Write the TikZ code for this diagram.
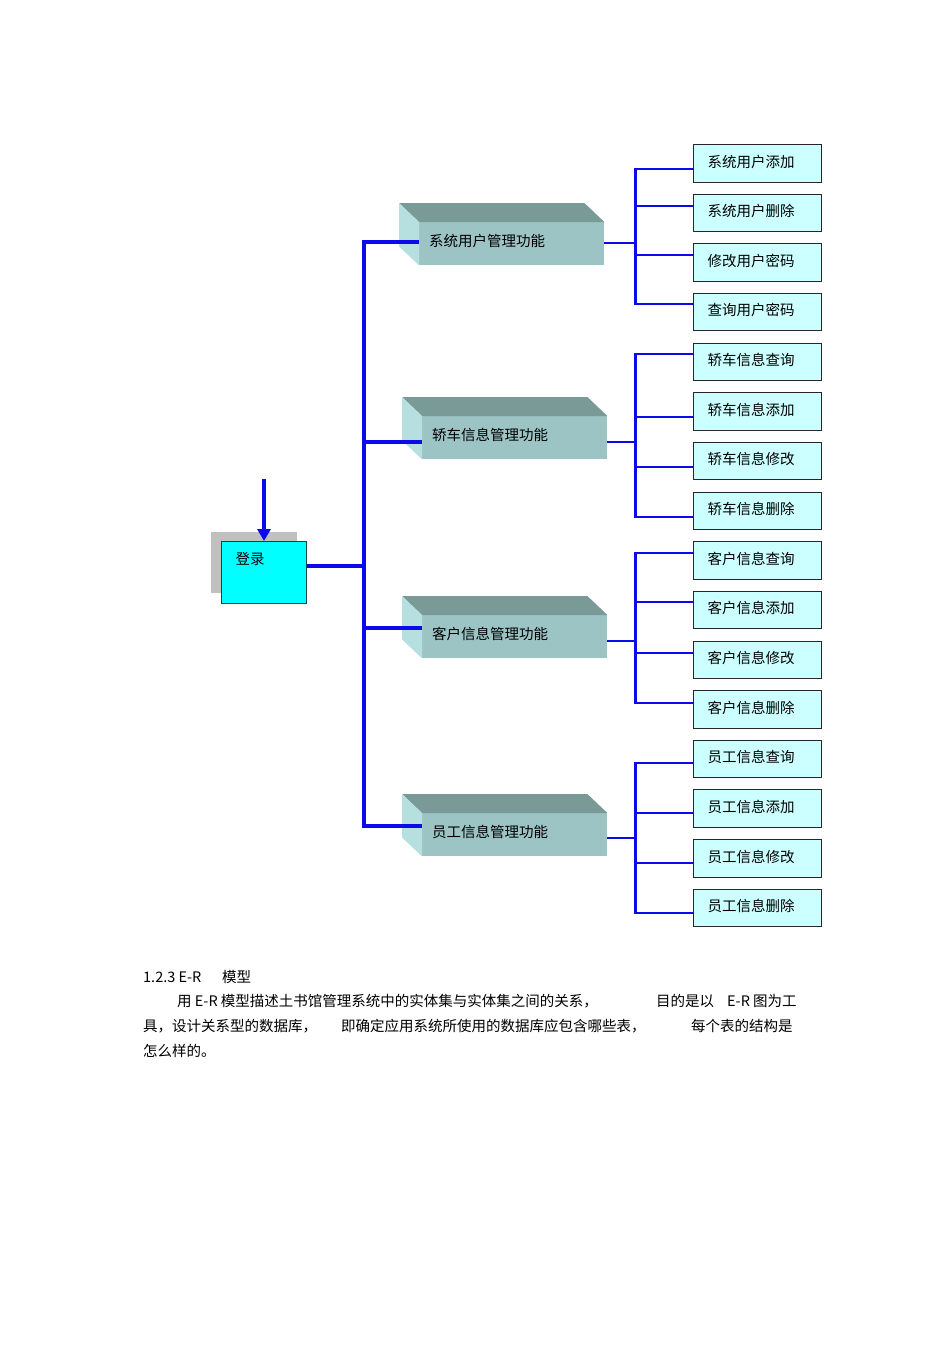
\documentclass[tikz,border=0pt]{standalone}
\usepackage{fontspec}
\setmainfont{Noto Sans CJK SC}
\usepackage{tikz}
\usetikzlibrary{positioning}
\usetikzlibrary{calc}
\usetikzlibrary{arrows.meta}
\definecolor{linkblue}{RGB}{10,10,235}
\definecolor{leafcyan}{RGB}{204,255,255}
\definecolor{logincyan}{RGB}{0,255,255}
\definecolor{boxtop}{RGB}{122,154,152}
\definecolor{boxfront}{RGB}{156,196,196}
\definecolor{boxside}{RGB}{182,224,224}
\definecolor{shadowgray}{RGB}{192,192,192}
\definecolor{loginedge}{RGB}{20,70,70}
\tikzset{
login_box/.style={rectangle, draw=loginedge, line width=0.8pt, fill=logincyan, minimum width=85pt, minimum height=62pt, anchor=north west},
module_front/.style={rectangle, fill=boxfront, minimum width=185pt, minimum height=43pt, text width=165pt, inner xsep=10pt, text height=12.5pt, text depth=7.5pt, align=left, anchor=north west, font=\fontsize{14.5}{17}\selectfont},
leaf_item/.style={rectangle, draw=black!85, line width=1pt, fill=leafcyan, minimum height=37.5pt, text width=100pt, inner xsep=14pt, text height=12.5pt, text depth=5pt, align=left, anchor=north west, font=\fontsize{14.5}{17}\selectfont},
main_link/.style={draw=linkblue, line width=4.5pt},
sub_trunk/.style={draw=linkblue, line width=3pt, line cap=rect},
branch_link/.style={draw=linkblue, line width=2.5pt},
out_link/.style={draw=linkblue, line width=2pt},
para/.style={anchor=base west, inner sep=0pt, font=\fontsize{14.5}{17}\selectfont}
}

\begin{document}
\begin{tikzpicture}[x=1pt, y=-1pt]
    \useasboundingbox (0,0) rectangle (950,1345);

    % login box with its shadow
    \fill[shadowgray] (211,532) rectangle (297,593);
    \node[login_box, label={[anchor=west, xshift=11pt, yshift=-18pt, font=\fontsize{14.5}{17}\selectfont]north west:登录}] (login) at (221,541) {};
    \coordinate (entry_top) at (264,479);
    \draw[main_link, line width=4pt, -{Triangle[width=13pt,length=12pt]}] (entry_top) -- (login.north -| entry_top);
    \coordinate (hub) at (364,566);
    \draw[main_link] (login.east |- hub) -- (hub);

    % four modules
    \foreach \i/\fx/\fy/\ey/\oy/\txt in {1/419/222/242/243/系统用户管理功能, 2/422/416/442/442/轿车信息管理功能, 3/422/615/628/641/客户信息管理功能, 4/422/813/826/838/员工信息管理功能}{
        \node[module_front] (m\i) at (\fx,\fy) {\txt};
        \fill[boxtop] (m\i.north west) -- (m\i.north east) -- ++(-20,-19) -- ($(m\i.north west)+(-20,-19)$) -- cycle;
        \fill[boxside] (m\i.north west) -- ++(-20,-19) -- ($(m\i.south west)+(-20,-19)$) -- (m\i.south west) -- cycle;
        \coordinate (in\i) at (364,\ey);
        \coordinate (out\i) at (635,\oy);
        \draw[out_link] (m\i.east |- out\i) -- (out\i);
    }
    \draw[main_link] (m1.west |- in1) -- (in1) -- (in4) -- (m4.west |- in4);
    \draw[main_link] (in2) -- (m2.west |- in2);
    \draw[main_link] (in3) -- (m3.west |- in3);

    % leaf functions
    \foreach \k/\off/\txt in {0/25/系统用户添加, 1/12.3/系统用户删除, 2/11.7/修改用户密码, 3/11/查询用户密码,
        4/11.4/轿车信息查询, 5/24.7/轿车信息添加, 6/25/轿车信息修改, 7/25.4/轿车信息删除,
        8/11.8/客户信息查询, 9/11.2/客户信息添加, 10/12.5/客户信息修改, 11/12.8/客户信息删除,
        12/23.2/员工信息查询, 13/23.5/员工信息添加, 14/23.9/员工信息修改, 15/24.2/员工信息删除}{
        \node[leaf_item] (leaf\k) at (693,{144+49.65*\k}) {\txt};
        \coordinate (b\k) at (635,{144+49.65*\k+\off});
        \draw[branch_link] (b\k) -- (leaf\k.west |- b\k);
    }
    \draw[sub_trunk] (b0) -- (b3);
    \draw[sub_trunk] (b4) -- (b7);
    \draw[sub_trunk] (b8) -- (b11);
    \draw[sub_trunk] (b12) -- (b15);

    % text below the chart
    \node[para] (sec_num) at (143,982) {1.2.3 E-R};
    \node[para] (sec_word) at (222,982) {模型};
    \node[para] (line_a1) at (177,1006) {用 E-R 模型描述土书馆管理系统中的实体集与实体集之间的关系，};
    \node[para] (line_a2) at (656,1006) {目的是以};
    \node[para] (line_a3) at (727,1006) {E-R 图为工};
    \node[para] (line_b1) at (143,1031) {具，设计关系型的数据库，};
    \node[para] (line_b2) at (341,1031) {即确定应用系统所使用的数据库应包含哪些表，};
    \node[para] (line_b3) at (691,1031) {每个表的结构是};
    \node[para] (line_c1) at (143,1056) {怎么样的。};
\end{tikzpicture}
\end{document}
